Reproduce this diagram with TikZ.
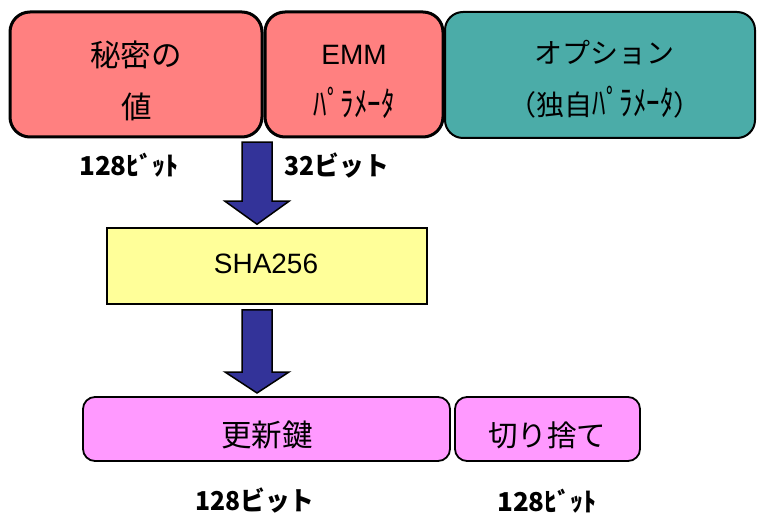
\documentclass[tikz,border=0pt]{standalone}
\usepackage{fontspec}
\setmainfont{Liberation Sans}
\newfontfamily\jp{Noto Sans CJK JP}
\usetikzlibrary{calc}
\definecolor{salmon}{RGB}{255,128,128}
\definecolor{teal2}{RGB}{75,172,168}
\definecolor{lyellow}{RGB}{255,255,153}
\definecolor{lmagenta}{RGB}{255,153,255}
\definecolor{arrowblue}{RGB}{51,51,153}
\newcommand{\hw}[1]{\scalebox{0.9}[1.15]{#1}}
\tikzset{
  topbox/.style={draw=black, line width=3pt, rounded corners=20pt, fill=salmon},
  optbox/.style={draw=black, line width=2pt, rounded corners=18pt, fill=teal2},
  shabox/.style={draw=black, line width=1.5pt, fill=lyellow},
  keybox/.style={draw=black, line width=1.8pt, rounded corners=12pt, fill=lmagenta},
  boxtext/.style={anchor=base, inner sep=0pt, font=\jp\fontsize{28}{28}\selectfont},
  kanjitext/.style={anchor=base, inner sep=0pt, font=\jp\fontsize{30.5}{30}\selectfont},
  latintext/.style={anchor=base, inner sep=0pt, font=\fontsize{28}{28}\selectfont},
  bitlabel/.style={anchor=base, inner sep=0pt, font=\jp\bfseries\fontsize{26}{26}\selectfont},
  blockarrow/.style={draw=black, line width=1.5pt, fill=arrowblue, line join=miter},
}
\begin{document}
\begin{tikzpicture}[x=1pt, y=-1pt]
\useasboundingbox (0,0) rectangle (757,518);
% top boxes
\draw[topbox] (10,12) rectangle (262,137);
\draw[topbox] (265,12) rectangle (443,137);
\draw[optbox] (445,12) rectangle (755,138);
% texts
\node[kanjitext] (t1a) at (136,67) {秘密の};
\node[kanjitext] (t1b) at (137,119) {値};
\node[latintext] (t2a) at (354,65) {EMM};
\node[boxtext, font=\jp\fontsize{30}{30}\selectfont] (t2b) at (354,117) {\hw{ﾊﾟﾗﾒｰﾀ}};
\node[boxtext] (t3a) at (604,64) {オプション};
\node[boxtext] (t3b) at (605,116) {（独自{\fontsize{30}{30}\selectfont\hw{ﾊﾟﾗﾒｰﾀ}}）};
% bit labels
\node[bitlabel] (l1) at (129,176) {128ﾋﾞｯﾄ};
\node[bitlabel, xscale=0.95] (l2) at (337,176) {32ビット};
% SHA box
\node[shabox, minimum width=320pt, minimum height=76pt, inner sep=0pt] (sha) at (267,266) {};
\node[latintext] (shat) at (266,274) {SHA256};
% arrow 1
\coordinate (tip1) at ($(sha.north)+(-10,-3)$);
\draw[blockarrow] ($(tip1)+(-15,-82)$) -- ($(tip1)+(15,-82)$) -- ($(tip1)+(15,-23)$) -- ($(tip1)+(32,-23)$) -- (tip1) -- ($(tip1)+(-32,-23)$) -- ($(tip1)+(-15,-23)$) -- cycle;
% bottom boxes
\draw[keybox] (83,397) rectangle (450,461);
\node[kanjitext] (k1) at (267,446) {更新鍵};
\draw[keybox] (455,397) rectangle (640,461);
\node[kanjitext, font=\jp\fontsize{29.5}{30}\selectfont] (k2) at (547,446) {切り捨て};
% arrow 2
\coordinate (tip2) at (257,393);
\draw[blockarrow] ($(tip2)+(-15,-83)$) -- ($(tip2)+(15,-83)$) -- ($(tip2)+(15,-21)$) -- ($(tip2)+(32,-21)$) -- (tip2) -- ($(tip2)+(-32,-21)$) -- ($(tip2)+(-15,-21)$) -- cycle;
% bottom labels
\node[bitlabel, xscale=0.95] (l3) at (255,510) {128ビット};
\node[bitlabel] (l4) at (547,511) {128ﾋﾞｯﾄ};
\end{tikzpicture}
\end{document}
